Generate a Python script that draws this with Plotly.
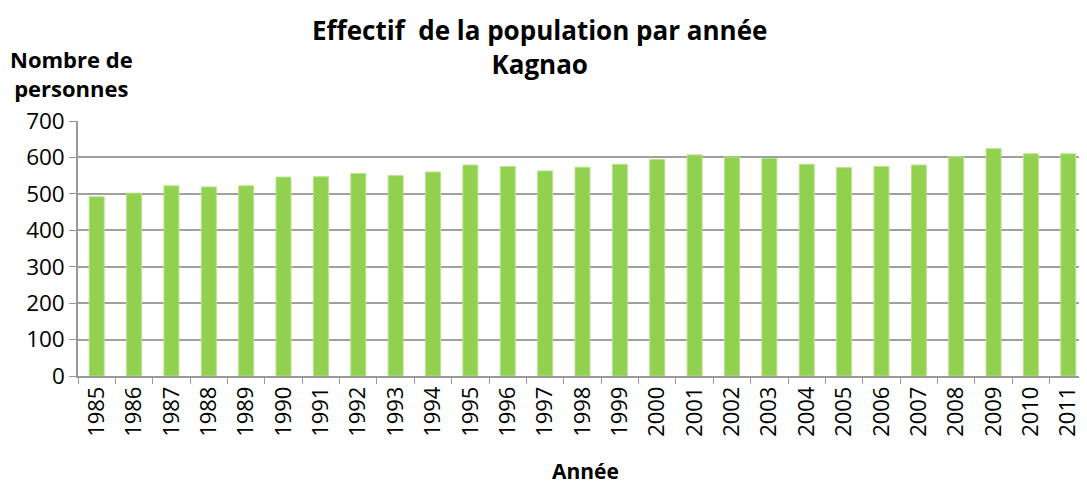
import plotly.graph_objects as go

years = [str(y) for y in range(1985, 2012)]
population = [492, 502, 522, 519, 522, 546, 547, 556, 550, 560, 579, 575, 563, 573,
              581, 594, 607, 601, 597, 581, 572, 575, 579, 602, 624, 610, 610]
y_ticks = [0, 100, 200, 300, 400, 500, 600, 700]

font_family = "Open Sans, Noto Sans, DejaVu Sans, sans-serif"

# The page body has an 8px default margin, so the figure is sized to fit inside it.
fig = go.Figure(go.Bar(
    x=years, y=population,
    marker=dict(color="#92D050", line=dict(color="#B5E28A", width=1)),
))

fig.update_layout(
    width=1079, height=478,
    margin=dict(l=70, r=0, t=113, b=110),
    paper_bgcolor="white", plot_bgcolor="white",
    bargap=0.6,
    showlegend=False,
    font=dict(family=font_family, color="black"),
)

fig.update_xaxes(
    type="category",
    automargin=False,
    tickangle=-90,
    tickfont=dict(size=22),
    ticks="outside", ticklen=6, tickcolor="#999999",
    tickson="boundaries",
    showline=True, linecolor="#999999", linewidth=1.5,
    showgrid=False,
)

fig.update_yaxes(
    range=[0, 700],
    automargin=False,
    tickvals=y_ticks,
    tickfont=dict(size=22.5),
    ticks="outside", ticklen=7, tickcolor="#999999",
    showline=True, linecolor="#999999", linewidth=1.5,
    showgrid=True, gridcolor="#A0A0A0", gridwidth=1.5,
    zeroline=False,
)

fig.add_annotation(
    text="<b>Effectif  de la population par année<br>Kagnao</b>",
    xref="paper", yref="paper", x=0.457, y=1.29,
    xanchor="center", yanchor="middle", showarrow=False, align="center",
    font=dict(size=26, family=font_family),
)

fig.add_annotation(
    text="<b>Nombre de<br>personnes</b>",
    xref="paper", yref="paper", x=-0.006, y=1.186,
    xanchor="center", yanchor="middle", showarrow=False, align="center",
    font=dict(size=22, family=font_family),
)

fig.add_annotation(
    text="<b>Année</b>",
    xref="paper", yref="paper", x=0.5025, y=-0.374,
    xanchor="center", yanchor="middle", showarrow=False,
    font=dict(size=21, family=font_family),
)

fig.write_html("out.html")
